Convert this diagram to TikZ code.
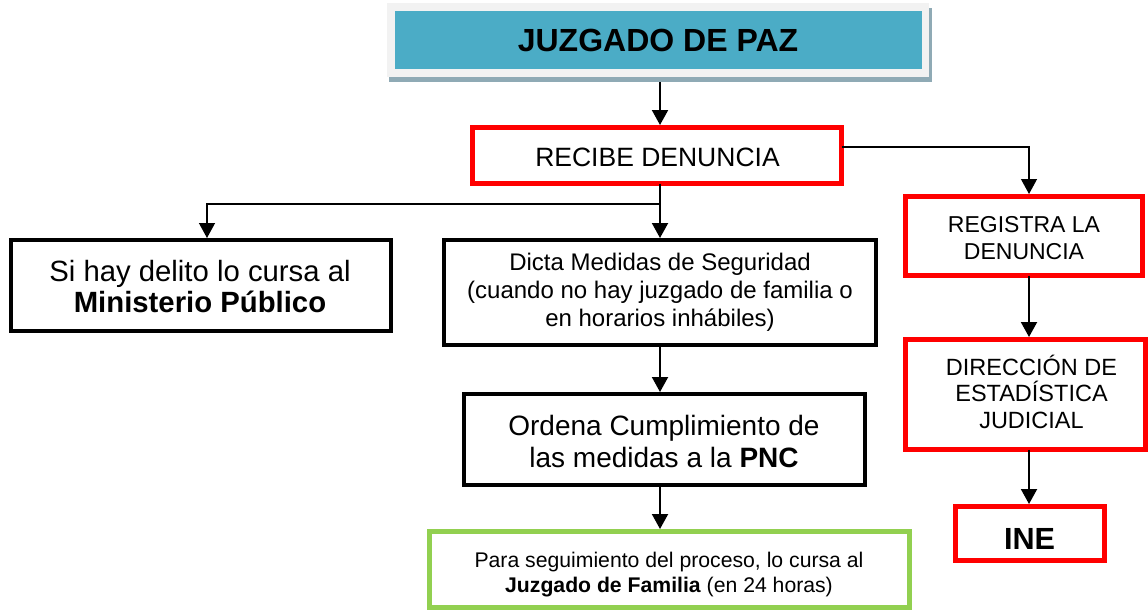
\documentclass[tikz,border=0pt]{standalone}
\usepackage{fontspec}
\setmainfont{Liberation Sans}
\usetikzlibrary{arrows.meta}
\definecolor{redb}{HTML}{FF0000}
\definecolor{greenb}{HTML}{92D050}
\definecolor{blueb}{HTML}{4BACC6}
\definecolor{frameg}{HTML}{F2F2F2}
\definecolor{shadowg}{HTML}{8FAAB5}
\begin{document}
\begin{tikzpicture}[x=1pt,y=-1pt,
 box/.style={rectangle, inner sep=0pt, outer sep=0pt},
 redbox/.style={box, draw=redb, line width=5pt},
 blackbox/.style={box, draw=black, line width=4pt},
 greenbox/.style={box, draw=greenb, line width=5pt},
 txt/.style={inner sep=0pt, outer sep=0pt, align=center, text depth=0pt},
 arr/.style={line width=2pt, -{Triangle[width=16pt,length=15pt]}},
 elbow/.style={line width=1.3pt, -{Triangle[width=16pt,length=15pt]}},
 link/.style={line width=1.3pt}]
\useasboundingbox (0,0) rectangle (1148,610);
% top box
\node[box, fill=shadowg, minimum width=543pt, minimum height=74pt] (jshadow) at (660.5,45) {};
\node[box, fill=frameg, minimum width=542pt, minimum height=74pt] (juzgado) at (658,40) {};
\node[box, fill=blueb, minimum width=527pt, minimum height=58pt] (jblue) at (658.5,40) {};
\node[txt, font=\fontsize{32}{36}\selectfont\bfseries, text height=23pt] (juzgadot) at (658,40) {JUZGADO DE PAZ};
% boxes
\node[redbox, minimum width=369pt, minimum height=56pt] (recibe) at (657,155.5) {};
\node[txt, font=\fontsize{26.5}{30}\selectfont, text height=19pt] (recibet) at (657.5,156.5) {RECIBE DENUNCIA};
\node[blackbox, minimum width=380pt, minimum height=91pt] (sihay) at (201,285.5) {};
\node[txt, font=\fontsize{29.3}{31}\selectfont, text height=52pt] (sihayt) at (200,286) {Si hay delito lo cursa al\\\textbf{Ministerio Público}};
\node[blackbox, minimum width=432pt, minimum height=105pt] (dicta) at (660,292.5) {};
\node[txt, font=\fontsize{24}{28}\selectfont, text height=73.2pt] (dictat) at (660,290) {Dicta Medidas de Seguridad\\(cuando no hay juzgado de familia o\\en horarios inhábiles)};
\node[blackbox, minimum width=401pt, minimum height=91pt] (ordena) at (664.5,439.5) {};
\node[txt, font=\fontsize{28}{32}\selectfont, text height=52pt] (ordenat) at (664,441) {Ordena Cumplimiento de\\las medidas a la \textbf{PNC}};
\node[greenbox, minimum width=480pt, minimum height=75.5pt] (familia) at (669.5,569.25) {};
\node[txt, font=\fontsize{21.2}{25}\selectfont, text height=40.2pt] (familiat) at (669,572.5) {Para seguimiento del proceso, lo cursa al\\\textbf{Juzgado de Familia} (en 24 horas)};
\node[redbox, minimum width=237pt, minimum height=79pt] (registra) at (1024,236) {};
\node[txt, font=\fontsize{23}{27}\selectfont, text height=43.5pt] (registrat) at (1024,237.5) {REGISTRA LA\\DENUNCIA};
\node[redbox, minimum width=240pt, minimum height=110pt] (direccion) at (1025.5,394.5) {};
\node[txt, font=\fontsize{23.5}{26.5}\selectfont, text height=69.8pt] (direcciont) at (1031.5,393.5) {DIRECCIÓN DE\\ESTADÍSTICA\\JUDICIAL};
\node[redbox, minimum width=149pt, minimum height=54pt] (ine) at (1030,533.5) {};
\node[txt, font=\fontsize{30.6}{34}\selectfont\bfseries, text height=22pt] (inet) at (1029.5,538) {INE};
% guide coordinates
\coordinate (spine) at (660,0);
\coordinate (rspine) at (1029,0);
\coordinate (branch) at (660,204);
\coordinate (lbranch) at (207,204);
% connectors
\draw[arr, shorten >=2.5pt] (jshadow.south -| spine) -- (recibe.north -| spine);
\draw[arr, shorten >=2pt] (recibe.south -| spine) -- (dicta.north -| spine);
\draw[elbow, shorten >=2pt] (branch) -| (sihay.north -| lbranch);
\draw[elbow, shorten >=2.5pt] ([yshift=8.5pt]recibe.east) -| (registra.north -| rspine);
\draw[arr, shorten >=2.5pt] (registra.south -| rspine) -- (direccion.north -| rspine);
\draw[arr, shorten >=2.5pt] (direccion.south -| rspine) -- (ine.north -| rspine);
\draw[arr, shorten >=2pt] (dicta.south -| spine) -- (ordena.north -| spine);
\draw[arr, shorten >=2.5pt] (ordena.south -| spine) -- (familia.north -| spine);
\end{tikzpicture}
\end{document}
